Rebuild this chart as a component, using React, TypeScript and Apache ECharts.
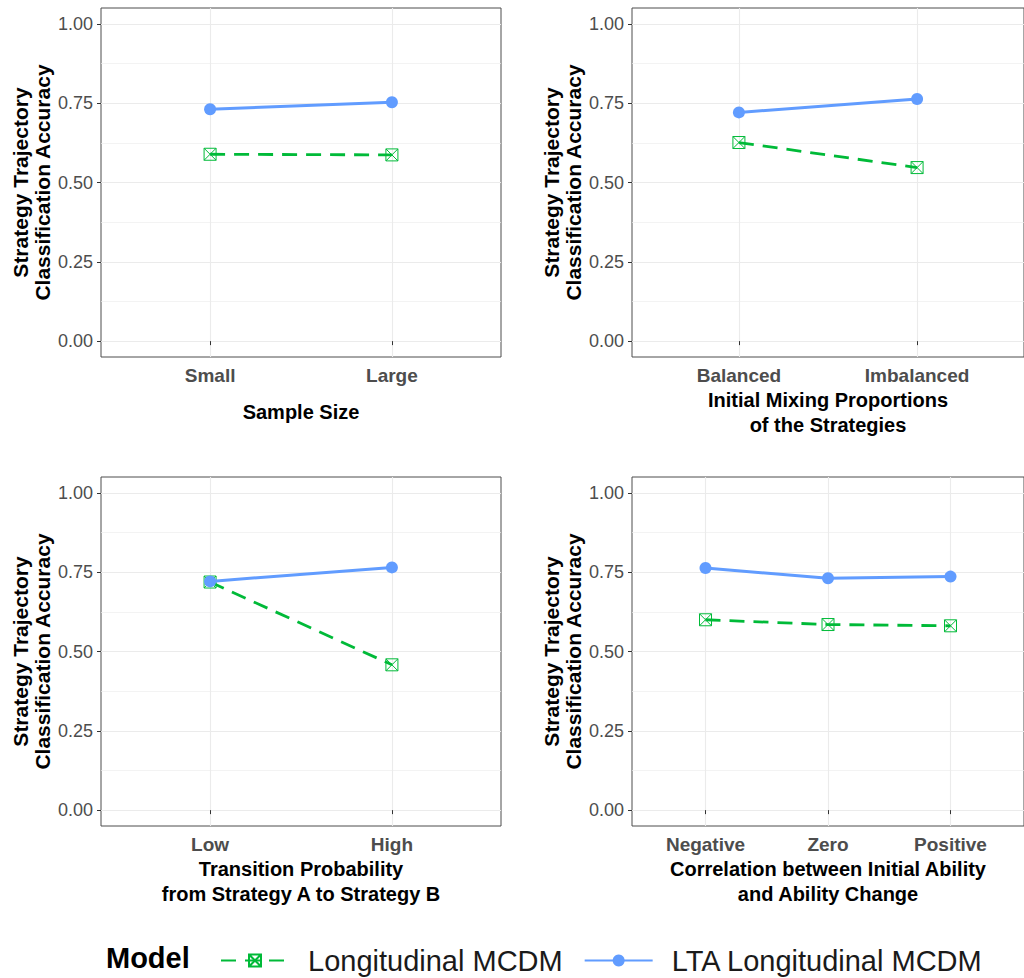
import React, { useEffect, useRef } from "react";
import * as echarts from "echarts";

const FONT = "'Liberation Sans', Arial, Helvetica, sans-serif";

const SERIES_NAMES = ["Longitudinal MCDM", "LTA Longitudinal MCDM"];
const LEGEND_TITLE = "Model";
const Y_TITLE = "Strategy Trajectory\nClassification Accuracy";
const Y_TICKS = [0, 0.25, 0.5, 0.75, 1.0];
const Y_MINOR = [0.125, 0.375, 0.625, 0.875];

const sampleSizeCats = ["Small", "Large"];
const sampleSizeLong = [0.589, 0.587];
const sampleSizeLTA = [0.731, 0.753];

const mixingCats = ["Balanced", "Imbalanced"];
const mixingLong = [0.626, 0.547];
const mixingLTA = [0.721, 0.763];

const transitionCats = ["Low", "High"];
const transitionLong = [0.719, 0.458];
const transitionLTA = [0.721, 0.765];

const correlationCats = ["Negative", "Zero", "Positive"];
const correlationLong = [0.6, 0.585, 0.581];
const correlationLTA = [0.763, 0.731, 0.736];

const xTitles = [
  "Sample Size",
  "Initial Mixing Proportions\nof the Strategies",
  "Transition Probability\nfrom Strategy A to Strategy B",
  "Correlation between Initial Ability\nand Ability Change",
];

const panels = [
  { cats: sampleSizeCats, long: sampleSizeLong, lta: sampleSizeLTA },
  { cats: mixingCats, long: mixingLong, lta: mixingLTA },
  { cats: transitionCats, long: transitionLong, lta: transitionLTA },
  { cats: correlationCats, long: correlationLong, lta: correlationLTA },
];

// layout (px)
const layout = [
  { left: 101, top: 8, width: 400, height: 349, nameGap: 42 },
  { left: 632, top: 8, width: 401, height: 349, nameGap: 30 },
  { left: 101, top: 477, width: 400, height: 349, nameGap: 30 },
  { left: 632, top: 477, width: 400, height: 349, nameGap: 30 },
];

const GREEN = "#00BA38";
const BLUE = "#619CFF";
const SQX = "path://M0,0H10V10H0Z M0,0L10,10 M10,0L0,10";

export default function App() {
  const ref = useRef<HTMLDivElement>(null);
  useEffect(() => {
    if (!ref.current) return;
    const chart = echarts.init(ref.current, null, { renderer: "svg" });
    const grid: any[] = [];
    const xAxis: any[] = [];
    const yAxis: any[] = [];
    const series: any[] = [];
    panels.forEach((p, i) => {
      const L = layout[i];
      grid.push({
        left: L.left,
        top: L.top,
        width: L.width,
        height: L.height,
        show: true,
        backgroundColor: "#ffffff",
        borderColor: "#4d4d4d",
        borderWidth: 1,
      });
      const idx = p.cats.map((_, k) => k + 1);
      xAxis.push({
        type: "value",
        gridIndex: i,
        min: 0.4,
        max: p.cats.length + 0.6,
        axisLine: { show: false },
        axisTick: { show: true, length: 4, customValues: idx, lineStyle: { color: "#333333" } },
        axisLabel: {
          customValues: idx,
          formatter: (v: number) => p.cats[Math.round(v) - 1] ?? "",
          color: "#4d4d4d",
          fontWeight: "bold",
          fontSize: 19,
          lineHeight: 20,
          margin: 8,
          fontFamily: FONT,
        },
        splitLine: { show: true, lineStyle: { color: "#ebebeb", width: 1.1 } },
        name: xTitles[i],
        nameLocation: "middle",
        nameGap: L.nameGap,
        nameTextStyle: {
          fontSize: 20,
          fontWeight: "bold",
          color: "#000000",
          lineHeight: 25,
          fontFamily: FONT,
        },
      });
      yAxis.push({
        type: "value",
        gridIndex: i,
        min: -0.05,
        max: 1.05,
        axisLine: { show: false },
        axisTick: { show: true, length: 4, customValues: Y_TICKS, lineStyle: { color: "#333333" } },
        axisLabel: {
          customValues: Y_TICKS,
          formatter: (v: number) => v.toFixed(2),
          color: "#4d4d4d",
          fontSize: 18,
          margin: 8,
          fontFamily: FONT,
        },
        splitLine: { show: true, lineStyle: { color: "#ebebeb", width: 1.1 } },
        name: Y_TITLE,
        nameLocation: "middle",
        nameRotate: 90,
        nameGap: 48,
        nameTextStyle: {
          fontSize: 21,
          fontWeight: "bold",
          color: "#000000",
          lineHeight: 22,
          fontFamily: FONT,
        },
      });
      yAxis.push({
        type: "value",
        gridIndex: i,
        min: -0.05,
        max: 1.05,
        axisLine: { show: false },
        axisTick: { show: false, customValues: Y_MINOR },
        axisLabel: { show: false },
        splitLine: { show: true, lineStyle: { color: "#eeeeee", width: 0.7 } },
      });
      series.push({
        type: "line",
        name: SERIES_NAMES[0],
        xAxisIndex: i,
        yAxisIndex: 2 * i,
        data: idx.map((x, k) => [x, p.long[k]]),
        symbol: SQX,
        symbolSize: 12,
        itemStyle: { color: "rgba(255,255,255,0)", borderColor: GREEN, borderWidth: 1 },
        lineStyle: { color: GREEN, width: 2.8, type: [15, 9] },
        z: 3,
      });
      series.push({
        type: "line",
        name: SERIES_NAMES[1],
        xAxisIndex: i,
        yAxisIndex: 2 * i,
        data: idx.map((x, k) => [x, p.lta[k]]),
        symbol: "circle",
        symbolSize: 12,
        itemStyle: { color: BLUE },
        lineStyle: { color: BLUE, width: 3 },
        z: 4,
      });
    });

    chart.setOption({
      animation: false,
      backgroundColor: "#ffffff",
      grid,
      xAxis,
      yAxis,
      series,
      legend: {
        data: SERIES_NAMES,
        left: 215,
        top: 941,
        itemWidth: 68,
        itemHeight: 15,
        itemGap: 21,
        textStyle: { fontSize: 29, color: "#1a1a1a", fontFamily: FONT, padding: [0, 0, 0, 14] },
      },
      graphic: [
        {
          type: "text",
          x: 106,
          y: 958,
          style: {
            text: LEGEND_TITLE,
            fontSize: 29,
            fontWeight: "bold",
            fontFamily: FONT,
            fill: "#000000",
            verticalAlign: "middle",
          },
        },
      ],
    });
    return () => chart.dispose();
  }, []);
  return (
    <div
      ref={ref}
      style={{ position: "absolute", left: 0, top: 0, width: 1024, height: 978 }}
    />
  );
}
